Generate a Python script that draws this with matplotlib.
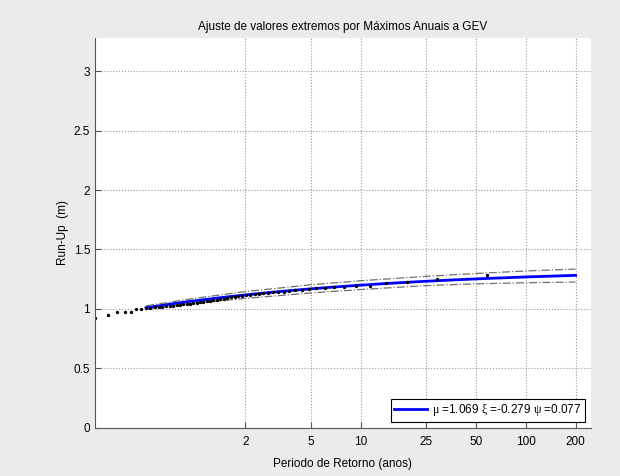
import numpy as np
import matplotlib
matplotlib.use('Agg')
import matplotlib.pyplot as plt

plt.rcParams['font.family'] = ['Liberation Sans', 'DejaVu Sans']
plt.rcParams['mathtext.fontset'] = 'custom'
plt.rcParams['mathtext.it'] = 'Liberation Serif'
plt.rcParams['mathtext.rm'] = 'Liberation Serif'

# parametros do ajuste GEV
mu, xi, psi = 1.069, -0.279, 0.077

# maximos anuais de run-up (m), ordenados
runup = [0.920, 0.945, 0.970, 0.972, 0.975, 1.000,
         1.002, 1.005, 1.008, 1.012, 1.015, 1.018, 1.022, 1.025,
         1.028, 1.031, 1.035, 1.038, 1.041, 1.045,
         1.048, 1.052, 1.056, 1.060, 1.064, 1.068, 1.072, 1.077,
         1.082, 1.087,
         1.092, 1.097, 1.101, 1.105, 1.109, 1.113, 1.117, 1.121,
         1.125, 1.130,
         1.134, 1.138, 1.142, 1.146, 1.150, 1.155, 1.160, 1.166,
         1.172, 1.178,
         1.182, 1.186, 1.190, 1.192, 1.219, 1.226, 1.251, 1.281]

# intervalo de confianca
T_banda = [0.5, 1, 2, 5, 10, 25, 50, 100, 200]
banda_sup = [1.026, 1.090, 1.146, 1.203, 1.237, 1.274, 1.298, 1.319, 1.335]
banda_inf = [0.994, 1.048, 1.088, 1.134, 1.163, 1.196, 1.211, 1.220, 1.226]

x_ticks = [2, 5, 10, 25, 50, 100, 200]

n = len(runup)
T_emp = -1.0 / np.log(np.arange(1, n + 1) / (n + 1.0))

T_fit = np.logspace(np.log10(0.5), np.log10(200), 300)
z_fit = mu + psi / xi * (T_fit ** xi - 1)

fig = plt.figure(figsize=(6.2, 4.76), dpi=100, facecolor='#ebebeb')
ax = fig.add_axes([0.1532, 0.1015, 0.7995, 0.8187])

lin, = ax.plot(T_fit, z_fit, color='#0000ff', lw=2,
               label=r'$\mu$ =%.3f $\xi$ =%.3f $\psi$ =%.3f' % (mu, xi, psi))
ax.plot(T_banda, banda_sup, color='#707070', lw=0.9, ls='-.')
ax.plot(T_banda, banda_inf, color='#707070', lw=0.9, ls='-.')
ax.plot(T_emp, runup, 'o', color='black', ms=2.4, mew=0)

ax.set_xscale('log')
ax.set_xlim(T_emp[0], 247)
ax.set_ylim(0, 3.28)
ax.set_xticks(x_ticks)
ax.set_xticklabels([str(t) for t in x_ticks])
ax.xaxis.set_minor_locator(matplotlib.ticker.NullLocator())
ax.set_yticks([0, 0.5, 1, 1.5, 2, 2.5, 3])
ax.set_yticklabels(['0', '0.5', '1', '1.5', '2', '2.5', '3'])

ax.grid(True, color='#9a9a9a', ls=':', lw=0.8)
ax.tick_params(direction='in', length=4, labelsize=8.5, color='#555555')
ax.tick_params(axis='x', pad=6)
for s in ['top', 'right']:
    ax.spines[s].set_visible(False)
for s in ['left', 'bottom']:
    ax.spines[s].set_color('#555555')

ax.set_title('Ajuste de valores extremos por Máximos Anuais a GEV', fontsize=8.5, pad=6)
ax.set_xlabel('Periodo de Retorno (anos)', fontsize=8.5, labelpad=7)
ax.set_ylabel('Run-Up  (m)', fontsize=8.5, labelpad=3)

leg = ax.legend(handles=[lin], loc='lower right', fontsize=8.5, handlelength=2.8,
                handletextpad=0.4, fancybox=False, framealpha=1, edgecolor='black',
                borderpad=0.3, borderaxespad=0.5)
leg.get_frame().set_linewidth(0.8)

fig.savefig('out.png', dpi=100, facecolor=fig.get_facecolor())
